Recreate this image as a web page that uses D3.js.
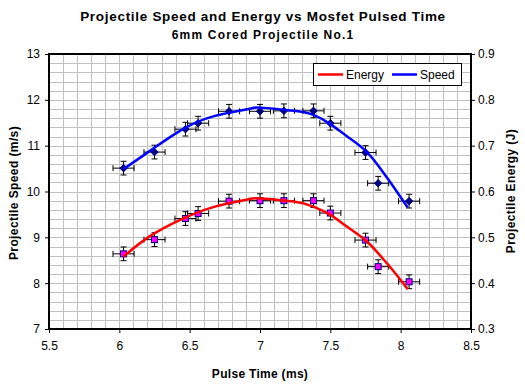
<!DOCTYPE html>
<html><head><meta charset="utf-8">
<script src="https://cdn.jsdelivr.net/npm/d3@7"></script>
<style>html,body{margin:0;padding:0;background:#fff;}svg{display:block;font-family:"Liberation Sans",Arial,sans-serif;}</style>
</head><body>
<svg id="c" width="525" height="385"></svg>
<script>
// ---- data ----
const timeMs = [6.03, 6.25, 6.47, 6.56, 6.78, 7.00, 7.17, 7.38, 7.50, 7.75, 7.84, 8.06];
const speed  = [10.51, 10.86, 11.36, 11.49, 11.75, 11.75, 11.76, 11.76, 11.49, 10.85, 10.18, 9.79];
const energy = [0.464, 0.495, 0.541, 0.552, 0.579, 0.580, 0.580, 0.580, 0.553, 0.494, 0.436, 0.403];
const timeErr = 0.075, speedErr = 0.15, energyErr = 0.015;
// trend curves
const fitTime   = [6.03, 6.21, 6.44, 6.68, 6.92, 7.00, 7.24, 7.38, 7.50, 7.62, 7.76, 7.88, 7.95, 8.05];
const speedFit  = [10.49, 10.87, 11.34, 11.65, 11.80, 11.83, 11.76, 11.67, 11.47, 11.20, 10.86, 10.40, 10.10, 9.65];
const energyFit = [0.458, 0.501, 0.539, 0.567, 0.583, 0.585, 0.578, 0.567, 0.549, 0.523, 0.491, 0.451, 0.426, 0.387];
const xTicks = [5.5, 6, 6.5, 7, 7.5, 8, 8.5];
const ySpeedTicks = [7, 8, 9, 10, 11, 12, 13];
const yEnergyTicks = [0.3, 0.4, 0.5, 0.6, 0.7, 0.8, 0.9];
const legendNames = ["Energy", "Speed"];
const title = "Projectile Speed and Energy vs Mosfet Pulsed Time";
const subtitle = "6mm Cored Projectile No.1";

const L = 49, R = 471, T = 54, B = 329;
const svg = d3.select("#c");
svg.append("rect").attr("width",525).attr("height",385).attr("fill","#fff");

const x = d3.scaleLinear().domain([5.5, 8.5]).range([L, R]);
const yS = d3.scaleLinear().domain([7, 13]).range([B, T]);
const yE = d3.scaleLinear().domain([0.3, 0.9]).range([B, T]);

// grid
const g = svg.append("g");
g.selectAll("line.vg").data(d3.range(1, 30).map(i => 5.5 + i * 0.1)).join("line")
  .attr("x1", d => Math.round(x(d)) + 0.5).attr("x2", d => Math.round(x(d)) + 0.5)
  .attr("y1", T).attr("y2", B).attr("stroke", "#c0c0c0").attr("stroke-width", 1);
g.selectAll("line.hg").data(d3.range(1, 30).map(i => 7 + i * 0.2)).join("line")
  .attr("y1", d => Math.round(yS(d)) + 0.5).attr("y2", d => Math.round(yS(d)) + 0.5)
  .attr("x1", L).attr("x2", R).attr("stroke", "#c0c0c0").attr("stroke-width", 1);

// axes
const ax = svg.append("g").attr("transform", `translate(0,${B})`)
  .call(d3.axisBottom(x).tickValues(xTicks).tickFormat(d => d).tickSize(4).tickPadding(8));
const ayL = svg.append("g").attr("transform", `translate(${L},0)`)
  .call(d3.axisLeft(yS).tickValues(ySpeedTicks).tickFormat(d => d).tickSize(4).tickPadding(5));
const ayR = svg.append("g").attr("transform", `translate(${R},0)`)
  .call(d3.axisRight(yE).tickValues(yEnergyTicks).tickFormat(d3.format(".1f")).tickSize(4).tickPadding(3));
[ax, ayL, ayR].forEach(a => {
  a.select(".domain").remove();
  a.selectAll("line").attr("stroke", "#000");
  a.selectAll("text").attr("font-size", 12).attr("fill", "#000").attr("font-family", "Liberation Sans, Arial, sans-serif");
});
// frame
svg.append("rect").attr("x", L).attr("y", T).attr("width", R - L).attr("height", B - T)
  .attr("fill", "none").attr("stroke", "#000").attr("stroke-width", 2);

const pts = timeMs.map((t, i) => ({t, s: speed[i], e: energy[i]}));

// error bars
function errBars(key, yScale, err) {
  const eg = svg.append("g").attr("stroke", "#000").attr("stroke-width", 1);
  pts.forEach(p => {
    const cx = x(p.t), cy = yScale(p[key]);
    const x0 = x(p.t - timeErr), x1 = x(p.t + timeErr);
    const y0 = yScale(p[key] - err), y1 = yScale(p[key] + err);
    eg.append("line").attr("x1", x0).attr("x2", x1).attr("y1", cy).attr("y2", cy);
    eg.append("line").attr("x1", x0).attr("x2", x0).attr("y1", cy - 3).attr("y2", cy + 3);
    eg.append("line").attr("x1", x1).attr("x2", x1).attr("y1", cy - 3).attr("y2", cy + 3);
    eg.append("line").attr("x1", cx).attr("x2", cx).attr("y1", y0).attr("y2", y1);
    eg.append("line").attr("x1", cx - 3).attr("x2", cx + 3).attr("y1", y0).attr("y2", y0);
    eg.append("line").attr("x1", cx - 3).attr("x2", cx + 3).attr("y1", y1).attr("y2", y1);
  });
}
errBars("s", yS, speedErr);
errBars("e", yE, energyErr);

// markers
svg.append("g").selectAll("path").data(pts).join("path")
  .attr("d", d3.symbol(d3.symbolDiamond2, 36))
  .attr("transform", d => `translate(${x(d.t)},${yS(d.s)})`)
  .attr("fill", "#000080").attr("stroke", "#000080").attr("stroke-width", 1);
svg.append("g").selectAll("rect").data(pts).join("rect")
  .attr("x", d => x(d.t) - 3).attr("y", d => yE(d.e) - 3).attr("width", 6).attr("height", 6)
  .attr("fill", "#ff00ff").attr("stroke", "#000080").attr("stroke-width", 1);

// trend curves
const fit = fitTime.map((t, i) => ({t, s: speedFit[i], e: energyFit[i]}));
svg.append("path").datum(fit)
  .attr("d", d3.line().x(d => x(d.t)).y(d => yS(d.s)).curve(d3.curveNatural))
  .attr("fill", "none").attr("stroke", "#0000ff").attr("stroke-width", 2.5);
svg.append("path").datum(fit)
  .attr("d", d3.line().x(d => x(d.t)).y(d => yE(d.e)).curve(d3.curveNatural))
  .attr("fill", "none").attr("stroke", "#ff0000").attr("stroke-width", 2.5);

// legend
const lg = svg.append("g");
lg.append("rect").attr("x", 313.5).attr("y", 63.5).attr("width", 148).attr("height", 22)
  .attr("fill", "#fff").attr("stroke", "#000").attr("stroke-width", 1);
const legColors = ["#ff0000", "#0000ff"];
const legX = [318, 392];
legendNames.forEach((n, i) => {
  lg.append("line").attr("x1", legX[i]).attr("x2", legX[i] + 25).attr("y1", 74.5).attr("y2", 74.5)
    .attr("stroke", legColors[i]).attr("stroke-width", 2.5);
  lg.append("text").attr("x", legX[i] + 28).attr("y", 79).attr("font-size", 12).text(n);
});

// titles
svg.append("text").attr("x", 263).attr("y", 21).attr("text-anchor", "middle")
  .attr("font-size", 13.5).attr("font-weight", "bold").attr("letter-spacing", 0.7).text(title);
svg.append("text").attr("x", 263).attr("y", 39).attr("text-anchor", "middle")
  .attr("font-size", 12).attr("font-weight", "bold").attr("letter-spacing", 1.2).text(subtitle);
svg.append("text").attr("x", 260).attr("y", 378).attr("text-anchor", "middle")
  .attr("font-size", 12).attr("font-weight", "bold").attr("letter-spacing", 0.3).text("Pulse Time (ms)");
svg.append("text").attr("transform", "translate(18,193) rotate(-90)").attr("text-anchor", "middle")
  .attr("font-size", 12).attr("font-weight", "bold").attr("letter-spacing", 0.4).text("Projectile Speed (m/s)");
svg.append("text").attr("transform", "translate(515,191) rotate(-90)").attr("text-anchor", "middle")
  .attr("font-size", 12).attr("font-weight", "bold").attr("letter-spacing", 0.4).text("Projectile Energy (J)");
</script>
</body></html>
